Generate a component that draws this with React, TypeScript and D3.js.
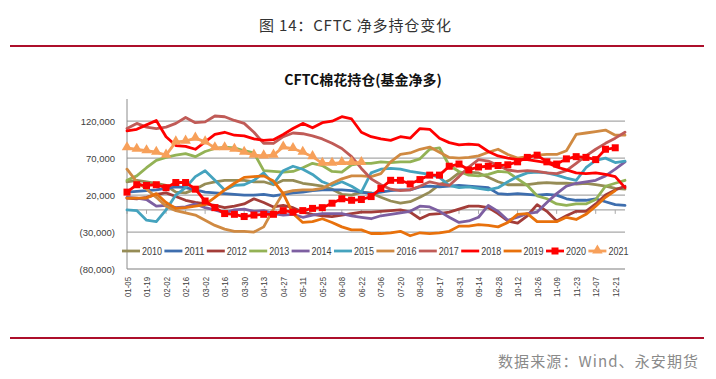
import React from "react";
import * as d3 from "d3";

const weeks = [
  "01-05","01-12","01-19","01-26","02-02","02-09","02-16","02-23","03-02","03-09",
  "03-16","03-23","03-30","04-06","04-13","04-20","04-27","05-04","05-11","05-18",
  "05-25","06-01","06-08","06-15","06-22","06-29","07-06","07-13","07-20","07-27",
  "08-03","08-10","08-17","08-24","08-31","09-07","09-14","09-21","09-28","10-05",
  "10-12","10-19","10-26","11-02","11-09","11-16","11-23","11-30","12-07","12-14",
  "12-21","12-28",
];
const tickLabels = [
  "01-05","01-19","02-02","02-16","03-02","03-16","03-30","04-13","04-27","05-11",
  "05-25","06-08","06-22","07-06","07-20","08-03","08-17","08-31","09-14","09-28",
  "10-12","10-26","11-09","11-23","12-07","12-21",
];
const yTicks = [-80000, -30000, 20000, 70000, 120000];

const seriesNames = ["2010","2011","2012","2013","2014","2015","2016","2017","2018","2019","2020","2021"];

const s2010 = [38,40,38,36,33,24,23,28,35,38,40,40,40,38,38,34,40,40,
  36,34,32,28,21,20,24,23,17,12,9,11,17,24,34,40,50,
  51,50,44,38,34,34,34,36,37,36,36,35,36,34,32,29,28];
const s2011 = [24,25,26,27,29,31,30,27,24,23,22,21,20,20,21,19,21,23,
  24,26,27,27,27,26,24,22,24,26,27,27,31,32,31,32,33,
  32,31,30,22,21,22,21,20,21,20,15,13,13,15,11,7,6];
const s2012 = [16,15,17,21,23,18,13,10,8,6,3,5,8,15,10,4,6,3,
  -3,-6,-8,-9,-7,-5,-3,-3,-2,-1,0,-3,-12,-6,-5,-3,1,
  5,5,3,-5,-15,-18,-8,7,-2,-15,-8,-2,-2,8,20,27,32];
const s2013 = [40,46,57,67,71,74,76,72,79,83,85,84,80,77,53,52,51,52,
  57,63,60,52,51,61,63,63,65,64,65,65,69,82,84,60,52,
  47,46,48,52,51,42,33,19,15,8,6,8,8,14,32,36,40];
const s2014 = [17,16,14,5,6,3,4,8,3,0,-4,0,1,-2,-1,-5,-7,-6,
  -10,-7,-5,-5,-5,-8,-10,-12,-8,-6,-4,-2,5,4,-2,-10,-17,
  -15,-10,6,-2,-14,-10,-5,-3,10,22,32,36,38,40,46,55,65];
const s2015 = [0,-1,-14,-16,0,20,30,45,53,40,27,33,34,40,50,35,53,59,
  55,48,38,33,38,32,24,50,55,56,55,52,50,48,44,33,30,
  31,29,27,30,38,45,50,51,50,47,43,40,57,67,70,64,66];
const s2016 = [55,38,28,17,5,-1,-4,-7,-14,-21,-26,-29,-29,-30,-23,1,23,26,
  27,27,29,36,42,46,46,45,49,65,75,77,82,85,78,71,70,
  71,73,78,82,75,70,72,74,75,75,80,102,104,106,108,101,101];
const s2017 = [110,117,112,110,112,117,125,118,119,127,126,121,117,105,90,90,99,104,
  103,100,96,90,83,72,56,42,34,28,26,27,32,38,35,33,45,
  58,68,66,60,54,52,53,52,50,49,53,63,73,82,90,97,105];
const s2018 = [107,109,115,121,99,87,86,82,92,102,105,101,100,96,94,95,102,110,
  117,111,118,120,126,123,105,99,96,94,99,97,110,109,97,91,88,
  89,88,79,73,70,68,68,66,64,58,54,50,49,50,48,45,30];
const s2019 = [16,16,16,22,10,2,3,5,7,17,27,36,44,45,46,39,22,-5,
  -17,-16,-12,-17,-23,-27,-27,-32,-32,-31,-29,-35,-31,-32,-31,-29,-22,
  -22,-20,-21,-23,-17,-6,-5,-16,-16,-16,-10,-13,-6,5,17,26];
const s2020 = [24,34,33,34,30,37,37,28,12,3,-5,-6,-9,-7,-6,-6,-1,-3,-1,2,
  3,9,15,13,14,18,29,40,40,35,41,47,47,59,62,54,58,59,60,61,
  65,71,74,65,62,69,72,71,68,82,84];
const s2021 = [84,82,80,78,74,92,93,97,92,84,84,82,78,74,73,74,85,83,78,72,63,63,64,64,64];

const seriesValues = [s2010, s2011, s2012, s2013, s2014, s2015, s2016, s2017, s2018, s2019, s2020, s2021];
const colors = ["#968C56","#3E6EAE","#A33D39","#93B255","#7D5FA1","#45A3BE","#D08A42","#C05B57","#FF0000","#E8710C","#FF0000","#F7A05A"];
const markers = ["","","","","","","","","","","square","triangle"];

const fmt = d3.format(",");
const fmtY = (v: number) => (v < 0 ? `(${fmt(-v)})` : fmt(v));

export default function App() {
  const x = d3.scalePoint<string>().domain(weeks).range([127, 625]);
  const y = d3.scaleLinear().domain([-80000, 150000]).range([269, 99]);
  const lineGen = d3
    .line<number>()
    .x((_, i) => x(weeks[i]) as number)
    .y((d) => y(d * 1000));
  const tri = d3.symbol().type(d3.symbolTriangle).size(48)();
  const axisFont = "'Liberation Sans', Arial, sans-serif";
  const cjk = "'Noto Sans CJK SC', 'Noto Sans', sans-serif";
  const x0 = x(weeks[0]) as number;
  const x1 = x(weeks[weeks.length - 1]) as number;

  return (
    <svg width={716} height={379} style={{ position: "absolute", left: 0, top: 0, background: "#fff" }}>
      <rect x={0} y={0} width={716} height={379} fill="#fff" />
      {/* header */}
      <text x={355} y={31} textAnchor="middle" fontFamily={cjk} fontSize={15} fill="#333" textLength={192} lengthAdjust="spacing">
        图 14：CFTC 净多持仓变化
      </text>
      <line x1={10} x2={704} y1={46} y2={46} stroke="#AD0F2B" strokeWidth={2} />

      {/* chart title */}
      <text x={363} y={85} textAnchor="middle" fontFamily={cjk} fontWeight="bold" fontSize={14} fill="#111">
        CFTC棉花持仓(基金净多)
      </text>

      {/* gridlines */}
      {yTicks.map((t) => (
        <line key={t} x1={x0} x2={x1} y1={y(t)} y2={y(t)} stroke="#A8A8A8" strokeWidth={1.3} />
      ))}
      {/* zero category axis with ticks */}
      <line x1={x0} x2={x1} y1={y(0)} y2={y(0)} stroke="#A8A8A8" strokeWidth={1.3} />
      {tickLabels.map((t) => (
        <line key={"tk" + t} x1={x(t)} x2={x(t)} y1={y(0)} y2={y(0) + 4} stroke="#A8A8A8" strokeWidth={1} />
      ))}
      {/* y axis */}
      <line x1={x0} x2={x0} y1={99} y2={y(-80000)} stroke="#8C8C8C" strokeWidth={1} />

      {/* y labels */}
      {yTicks.map((t) => (
        <text key={"yl" + t} x={115} y={y(t) + 3.5} textAnchor="end" fontFamily={axisFont} fontSize={9.5} fill="#404040">
          {fmtY(t)}
        </text>
      ))}

      {/* x labels */}
      {tickLabels.map((t) => (
        <text
          key={"xl" + t}
          transform={`translate(${(x(t) as number) + 3.5},277) rotate(-90)`}
          textAnchor="end"
          fontFamily={axisFont}
          fontSize={9.5}
          fill="#404040"
          textLength={20}
          lengthAdjust="spacingAndGlyphs"
        >
          {t}
        </text>
      ))}

      {/* series */}
      {seriesValues.map((vals, k) => (
        <path
          key={"s" + k}
          d={lineGen(vals) || ""}
          fill="none"
          stroke={colors[k]}
          strokeWidth={2.8}
          strokeLinejoin="round"
          strokeLinecap="round"
        />
      ))}
      {seriesValues.map((vals, k) =>
        markers[k] === "square"
          ? vals.map((v, i) => (
              <rect key={`m${k}-${i}`} x={(x(weeks[i]) as number) - 3.5} y={y(v * 1000) - 3.5} width={7} height={7} fill={colors[k]} />
            ))
          : markers[k] === "triangle"
          ? vals.map((v, i) => (
              <path key={`m${k}-${i}`} d={tri || ""} transform={`translate(${x(weeks[i])},${y(v * 1000) - 0.5})`} fill={colors[k]} />
            ))
          : null
      )}

      {/* legend */}
      {seriesNames.map((n, k) => {
        const lx = 122 + k * 42.4;
        const ly = 251;
        return (
          <g key={"lg" + n}>
            <line x1={lx} x2={lx + 18} y1={ly} y2={ly} stroke={colors[k]} strokeWidth={2.8} />
            {markers[k] === "square" && <rect x={lx + 5.5} y={ly - 3.5} width={7} height={7} fill={colors[k]} />}
            {markers[k] === "triangle" && <path d={tri || ""} transform={`translate(${lx + 9},${ly - 0.5})`} fill={colors[k]} />}
            <text x={lx + 20} y={ly + 3.5} fontFamily={axisFont} fontSize={10} fill="#404040" textLength={20} lengthAdjust="spacingAndGlyphs">
              {n}
            </text>
          </g>
        );
      })}

      {/* footer */}
      <line x1={10} x2={704} y1={338} y2={338} stroke="#AD0F2B" strokeWidth={2} />
      <text x={698} y={367} textAnchor="end" fontFamily={cjk} fontSize={15} fill="#8A8A8A" textLength={200} lengthAdjust="spacing">
        数据来源：Wind、永安期货
      </text>
    </svg>
  );
}
